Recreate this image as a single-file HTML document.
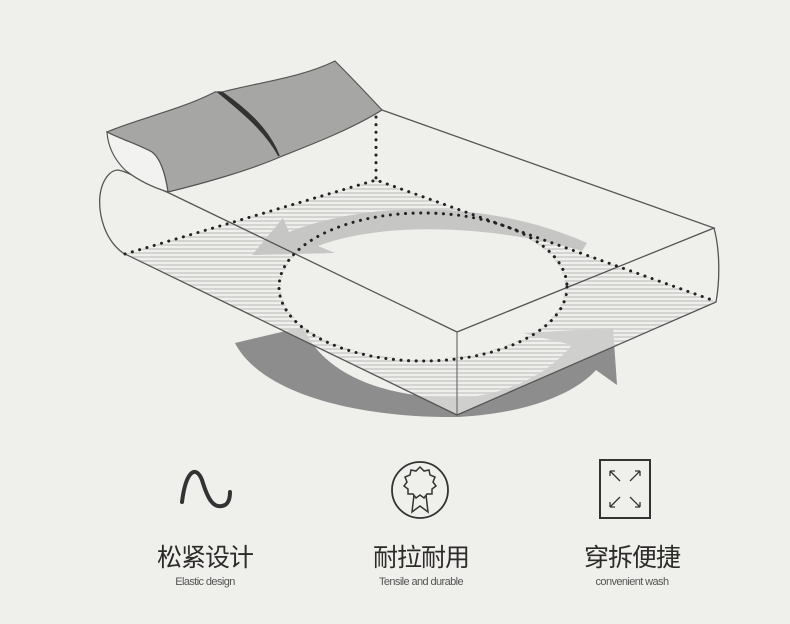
<!DOCTYPE html>
<html><head><meta charset="utf-8"><style>
body{margin:0;background:#efefec;width:790px;height:624px;overflow:hidden;font-family:"Liberation Sans","Noto Sans CJK SC",sans-serif}
.cn{position:absolute;font-size:25px;color:#2d2a2a;transform:translateX(-50%);white-space:nowrap;letter-spacing:-1px;top:538px}
.en{position:absolute;font-size:11px;color:#555;transform:translateX(-50%);white-space:nowrap;letter-spacing:-0.6px;top:576px}
</style></head><body>
<svg width="790" height="624" style="position:absolute;left:0;top:0">
<defs>
<pattern id="h" width="4" height="4" patternUnits="userSpaceOnUse"><rect width="4" height="2" fill="#d4d4d2"/></pattern>
<clipPath id="below"><path d="M0,253 L123,253 L457,415 L716,302 L790,302 L790,624 L0,624 Z"/></clipPath>
</defs>
<!-- hatched regions -->
<path d="M125,254 L376,180 L712,300 L716,302 L457,415 L123,253 Z" fill="url(#h)"/>
<ellipse cx="423" cy="287" rx="142" ry="72" fill="#efefec"/>
<!-- bottom arrow -->
<path id="arr" d="M235,343 C262,395 360,418 458,417 C530,413 575,393 596,370 L617,385 L613,328 L523,333 L572,345 C545,378 500,396 458,398 C380,398 322,372 303,327 Z" fill="#cfcfcd"/>
<path d="M235,343 C262,395 360,418 458,417 C530,413 575,393 596,370 L617,385 L613,328 L523,333 L572,345 C545,378 500,396 458,398 C380,398 322,372 303,327 Z" fill="#8d8d8d" clip-path="url(#below)"/>
<!-- top arrow -->
<path d="M252,255 L283,218 L289,232 C370,200 490,200 587,243 L582,251 C490,224 380,222 318,246 L335,253 Z" fill="#c6c6c4"/>
<!-- mattress outline -->
<g fill="none" stroke="#555" stroke-width="1.3">
<path d="M169,193 L457,332 L714,228 L382,110"/>
<path d="M457,332 L457,415" stroke="#777"/>
<path d="M714,228 C720,250 720,280 716,302 L457,415 L123,253 C105,240 98,215 100,195 C102,180 110,170 118,170 C130,172 150,185 169,193"/>
</g>
<!-- pillows -->
<path d="M107,132 C140,118 180,110 215,92 L222,92 C260,82 300,78 335,61 C352,78 368,95 382,110 C350,130 310,145 280,157 C250,170 205,183 168,192 C165,172 160,158 152,152 C135,143 118,138 107,132 Z" fill="#a6a6a4" stroke="#555" stroke-width="1.2"/>
<path d="M107,132 C108,148 115,160 125,170 C140,182 155,188 168,192 C165,172 160,158 152,152 C135,143 118,138 107,132 Z" fill="#f2f2f0" stroke="#555" stroke-width="1.2"/>
<path d="M218,92 C240,110 265,130 279,156 C270,132 250,112 223,93 Z" fill="#333" stroke="#333" stroke-width="1.6"/>
<!-- dotted lines -->
<g fill="none" stroke="#222" stroke-width="3" stroke-dasharray="0.1 7.5" stroke-linecap="round">
<path d="M376,117 L376,180"/>
<path d="M125,254 L376,180 L712,300"/>
<ellipse cx="423" cy="287" rx="144" ry="74"/>
</g>
<!-- icons -->
<path d="M182,502 C186,470 196,465 202,480 C208,500 214,510 225,505 C230,502 230,495 230,492" fill="none" stroke="#333" stroke-width="4" stroke-linecap="round"/>
<circle cx="420" cy="490" r="28" fill="none" stroke="#333" stroke-width="1.8"/>
<path d="M420,467 l4,4 5,-1 1,5 5,2 -2,5 3,4 -4,3 0,5 -5,0 -3,4 -4,-3 -4,3 -3,-4 -5,0 0,-5 -4,-3 3,-4 -2,-5 5,-2 1,-5 5,1z" fill="none" stroke="#333" stroke-width="1.5"/>
<path d="M414,495 L412,512 L420,506 L428,512 L426,495" fill="none" stroke="#333" stroke-width="1.5"/>
<rect x="600" y="460" width="50" height="58" fill="none" stroke="#333" stroke-width="2"/>
<g stroke="#333" stroke-width="1.3" fill="none">
<path d="M610,471 l10,10 M610,471 h5 M610,471 v5"/>
<path d="M640,471 l-10,10 M640,471 h-5 M640,471 v5"/>
<path d="M610,507 l10,-10 M610,507 h5 M610,507 v-5"/>
<path d="M640,507 l-10,-10 M640,507 h-5 M640,507 v-5"/>
</g>
</svg>
<div class="cn" style="left:205px">松紧设计</div>
<div class="en" style="left:205px">Elastic design</div>
<div class="cn" style="left:421px">耐拉耐用</div>
<div class="en" style="left:421px">Tensile and durable</div>
<div class="cn" style="left:632px">穿拆便捷</div>
<div class="en" style="left:632px">convenient wash</div>
</body></html>
